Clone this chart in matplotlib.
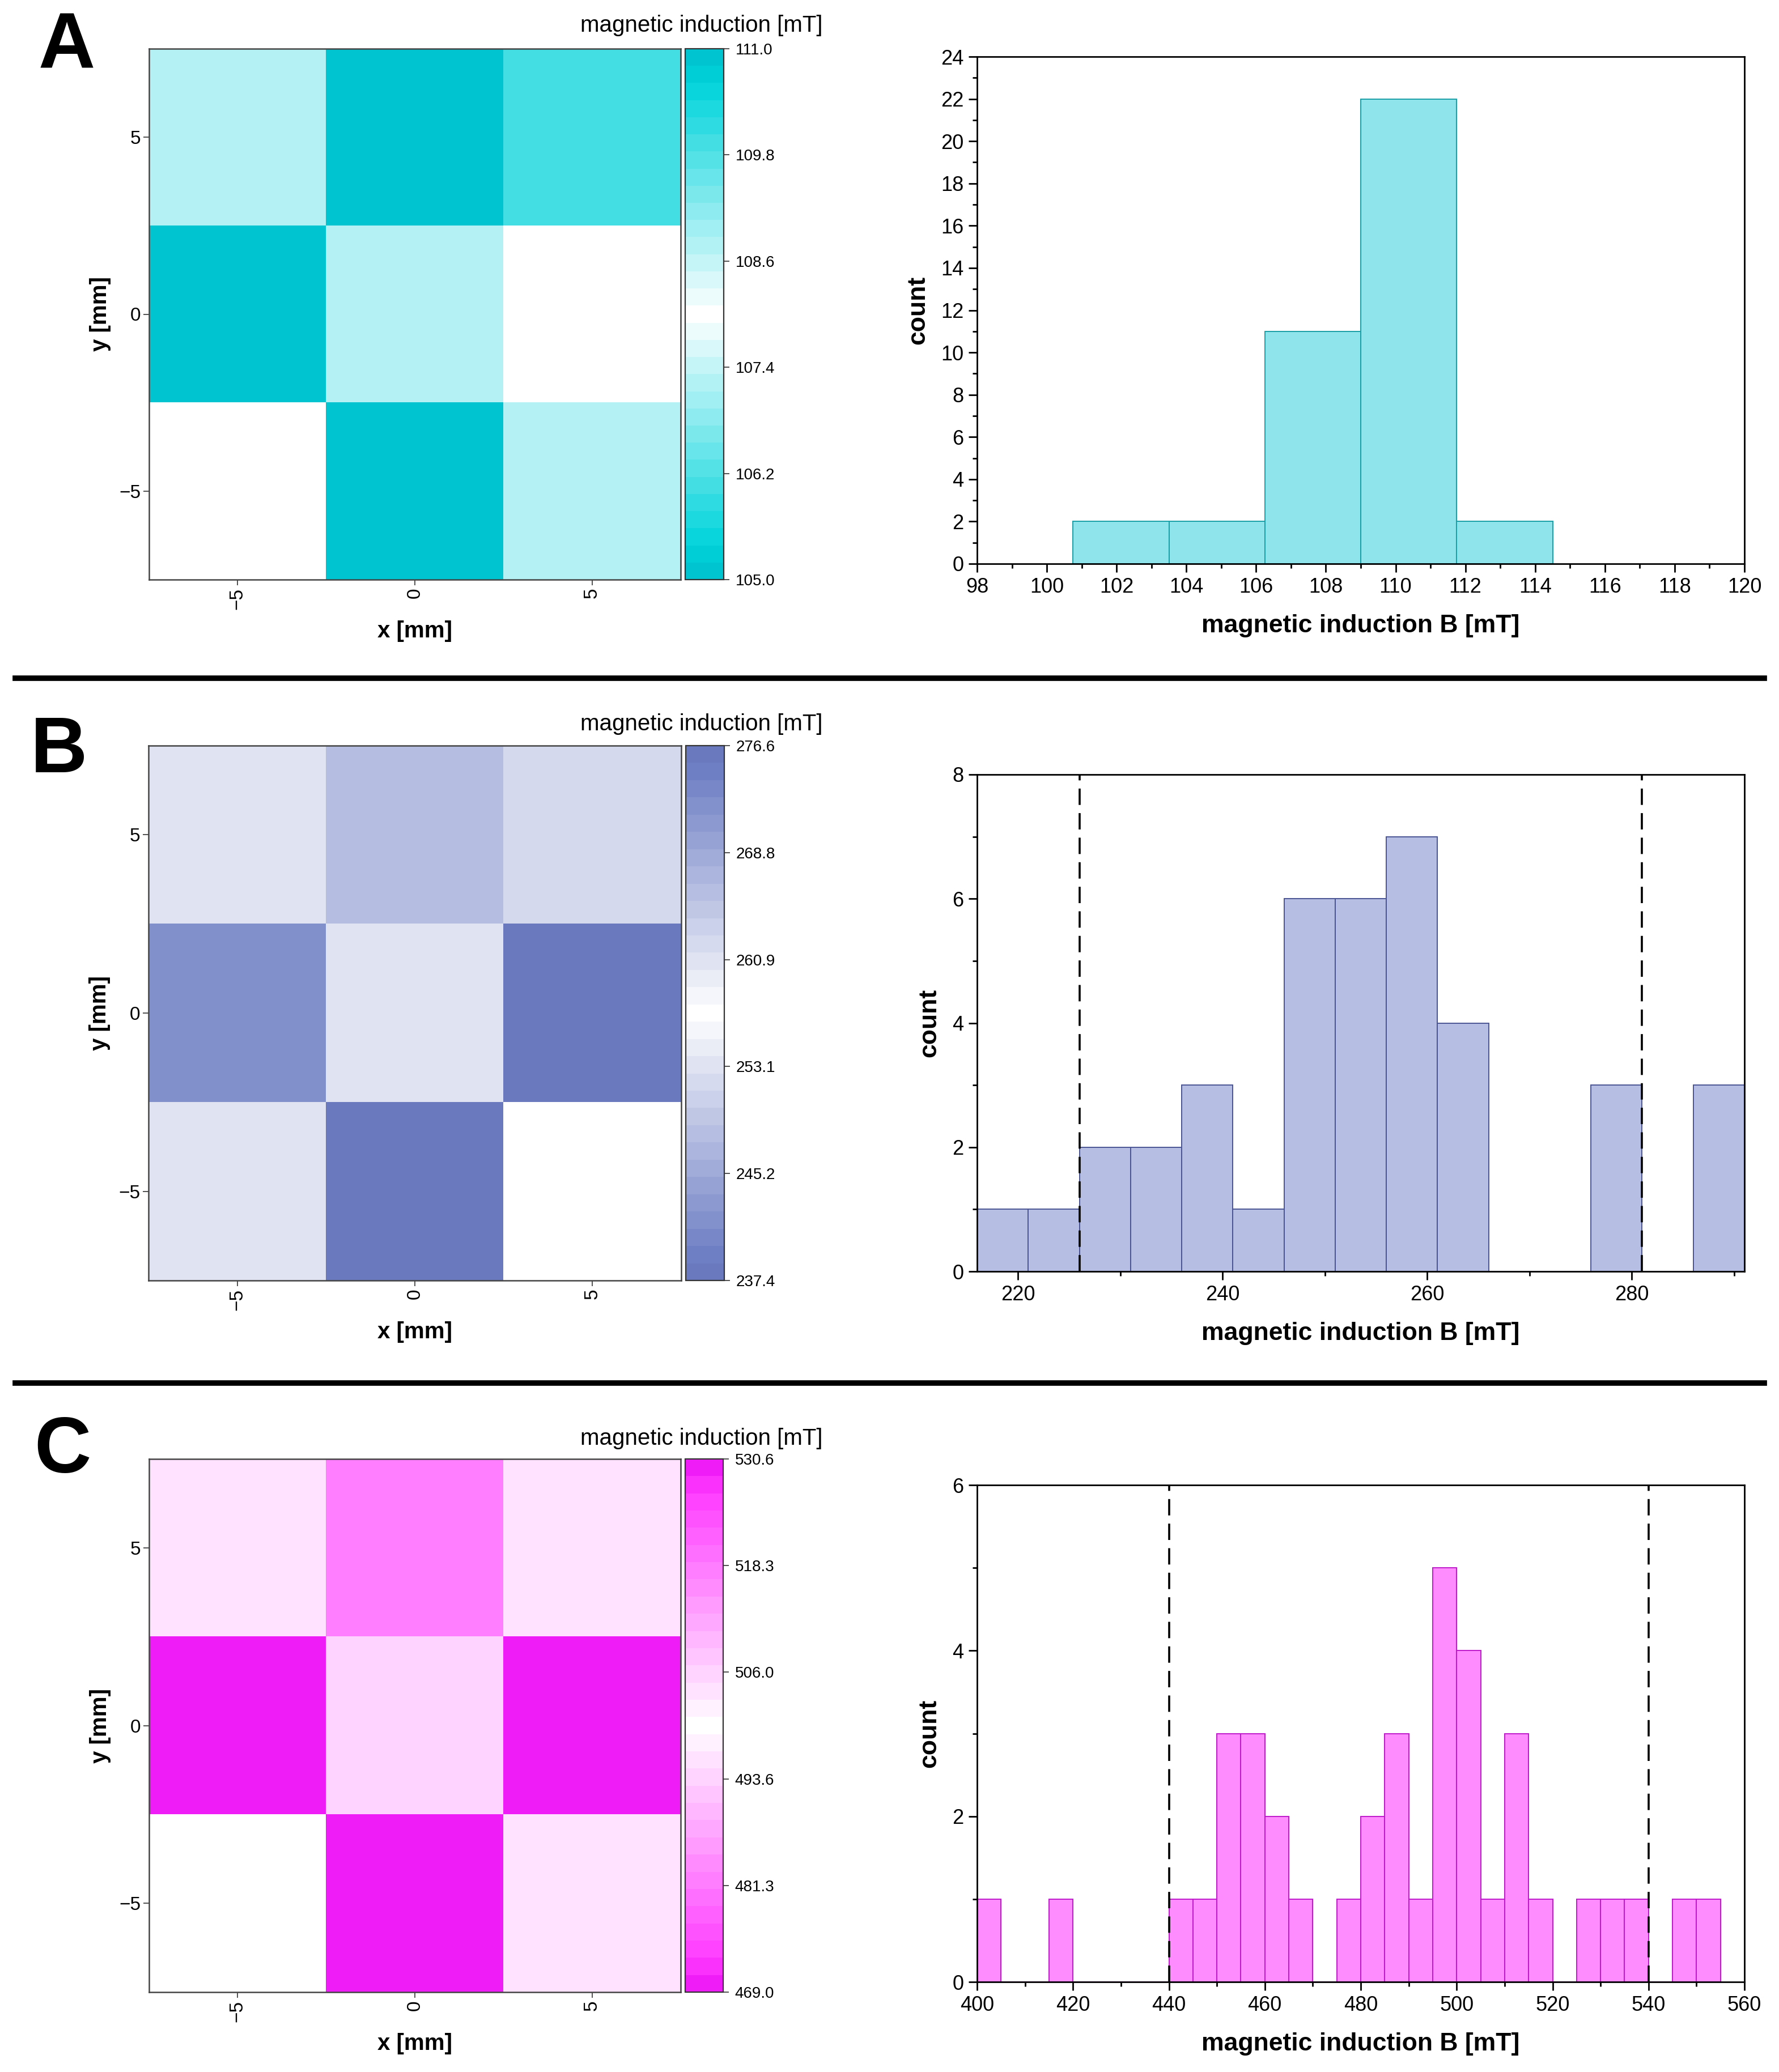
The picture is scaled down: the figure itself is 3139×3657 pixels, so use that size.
import numpy as np
import matplotlib
matplotlib.use('Agg')
import matplotlib.pyplot as plt
from matplotlib.colors import LinearSegmentedColormap
from matplotlib.lines import Line2D
from matplotlib.ticker import MultipleLocator

plt.rcParams['font.family'] = ['Liberation Sans', 'DejaVu Sans']

# --- data ---
panel_names = ['A', 'B', 'C']

# 3x3 field maps, first row is y = +5
field_A = [[107.25, 110.95, 110.0],
           [105.05, 108.75, 108.0],
           [108.0, 105.1, 107.25]]
field_B = [[253.3, 266.4, 262.2],
           [242.2, 260.8, 237.5],
           [253.4, 276.5, 257.0]]
field_C = [[496.1, 517.4, 503.5],
           [469.1, 506.3, 530.5],
           [499.8, 469.2, 496.0]]
grid_pos = [-5, 0, 5]

cbar_min = [105.0, 237.4, 469.0]
cbar_max = [111.0, 276.6, 530.6]

# histograms
edges_A = [100.75, 103.5, 106.25, 109.0, 111.75, 114.5]
counts_A = [2, 2, 11, 22, 2]
edges_B = [216, 221, 226, 231, 236, 241, 246, 251, 256, 261, 266, 271, 276, 281, 286, 291]
counts_B = [1, 1, 2, 2, 3, 1, 6, 6, 7, 4, 0, 0, 3, 0, 3]
edges_C = [400, 405, 410, 415, 420, 425, 430, 435, 440, 445, 450, 455, 460, 465, 470, 475,
           480, 485, 490, 495, 500, 505, 510, 515, 520, 525, 530, 535, 540, 545, 550, 555]
counts_C = [1, 0, 0, 1, 0, 0, 0, 0, 1, 1, 3, 3, 2, 1, 0, 1, 2, 3, 1, 5, 4, 1, 3, 1, 0, 1, 1, 1, 0, 1, 1]
limits_B = [226, 281]
limits_C = [440, 540]

# --- styling ---
map_dark = ['#00C5D0', '#6A79BE', '#F01CF8']
map_bright = ['#00D3DB', '#7282C5', '#FF3CFF']
bar_fill = ['#8EE4EA', '#B6BEE3', '#FF8CFF']
bar_edge = ['#1A9FA6', '#4B5593', '#BE1ACB']
hist_xlim = [(98, 120), (216, 291), (400, 560)]
hist_ylim = [(0, 24), (0, 8), (0, 6)]
hist_xstep = [(2, 1), (20, 10), (20, 10)]
hist_ystep = [(2, 1), (2, 1), (2, 1)]

W, H = 3139, 3657
fig = plt.figure(figsize=(W / 100, H / 100), dpi=100)

def frac(left, top, right, bottom):
    return [left / W, 1 - bottom / H, (right - left) / W, (bottom - top) / H]

map_rects = [frac(263, 86, 1201, 1023), frac(262, 1316, 1202, 2260), frac(263, 2575, 1201, 3516)]
cbar_rects = [frac(1209, 86, 1277, 1023), frac(1210, 1316, 1278, 2260), frac(1209, 2575, 1276, 3516)]
hist_rects = [frac(1724, 100, 3078, 995), frac(1724, 1367, 3078, 2244), frac(1724, 2621, 3078, 3498)]
title_y = [56, 1289, 2550]
letter_pos = [(68, 121), (54, 1363), (60, 2599)]

fields = [field_A, field_B, field_C]
edges_all = [edges_A, edges_B, edges_C]
counts_all = [counts_A, counts_B, counts_C]
limits_all = [None, limits_B, limits_C]

for i in range(3):
    # heat map
    ax = fig.add_axes(map_rects[i])
    cmap = LinearSegmentedColormap.from_list(
        'm%d' % i,
        [(0.0, map_dark[i]), (0.05, map_bright[i]), (0.5, 'white'),
         (0.95, map_bright[i]), (1.0, map_dark[i])], N=31)
    im = ax.imshow(np.array(fields[i]), cmap=cmap, vmin=cbar_min[i], vmax=cbar_max[i],
                   extent=[-7.5, 7.5, -7.5, 7.5], origin='upper', aspect='auto',
                   interpolation='nearest')
    ax.set_xticks(grid_pos)
    ax.set_yticks(grid_pos)
    ax.tick_params(axis='x', labelsize=24, labelrotation=90, length=7, width=1.2, color='#333333')
    ax.tick_params(axis='y', labelsize=24, length=7, width=1.2, color='#333333')
    for s in ax.spines.values():
        s.set_color('#444444')
        s.set_linewidth(1.8)
    ax.set_xlabel('x [mm]', fontsize=29, fontweight='bold', labelpad=14)
    ax.set_ylabel('y [mm]', fontsize=29, fontweight='bold', labelpad=10)

    cax = fig.add_axes(cbar_rects[i])
    cb = fig.colorbar(im, cax=cax, ticks=np.linspace(cbar_min[i], cbar_max[i], 6), format='%.1f')
    cb.outline.set_edgecolor('#333333')
    cb.outline.set_linewidth(1.6)
    cax.tick_params(labelsize=20, length=7, width=1.2, color='#333333', pad=8)
    fig.text(1452 / W, 1 - title_y[i] / H, 'magnetic induction [mT]', fontsize=29,
             ha='right', va='baseline')

    # panel letter
    lx, ly = letter_pos[i]
    fig.text(lx / W, 1 - ly / H, panel_names[i], fontsize=100, fontweight='bold',
             ha='left', va='baseline')

    # histogram
    hx = fig.add_axes(hist_rects[i])
    e = np.array(edges_all[i], dtype=float)
    hx.bar(e[:-1], counts_all[i], width=np.diff(e), align='edge', color=bar_fill[i],
           edgecolor=bar_edge[i], linewidth=1.4, zorder=2)
    if limits_all[i] is not None:
        for v in limits_all[i]:
            hx.axvline(v, color='black', linewidth=2.6, dashes=(8, 4), zorder=3)
    hx.set_xlim(*hist_xlim[i])
    hx.set_ylim(*hist_ylim[i])
    hx.xaxis.set_major_locator(MultipleLocator(hist_xstep[i][0]))
    hx.xaxis.set_minor_locator(MultipleLocator(hist_xstep[i][1]))
    hx.yaxis.set_major_locator(MultipleLocator(hist_ystep[i][0]))
    hx.yaxis.set_minor_locator(MultipleLocator(hist_ystep[i][1]))
    hx.tick_params(which='major', direction='out', length=11, width=2, labelsize=26, pad=6)
    hx.tick_params(which='minor', direction='out', length=6, width=2)
    for s in hx.spines.values():
        s.set_linewidth(2)
    hx.set_xlabel('magnetic induction B [mT]', fontsize=32, fontweight='bold', labelpad=22)
    hx.set_ylabel('count', fontsize=32, fontweight='bold', labelpad=14)

# separator lines between panels
for y in [1197, 2441]:
    fig.add_artist(Line2D([27 / W, 3113 / W], [1 - y / H, 1 - y / H],
                          transform=fig.transFigure, color='black', linewidth=7))

fig.savefig('out.png', dpi=100, facecolor='white')
